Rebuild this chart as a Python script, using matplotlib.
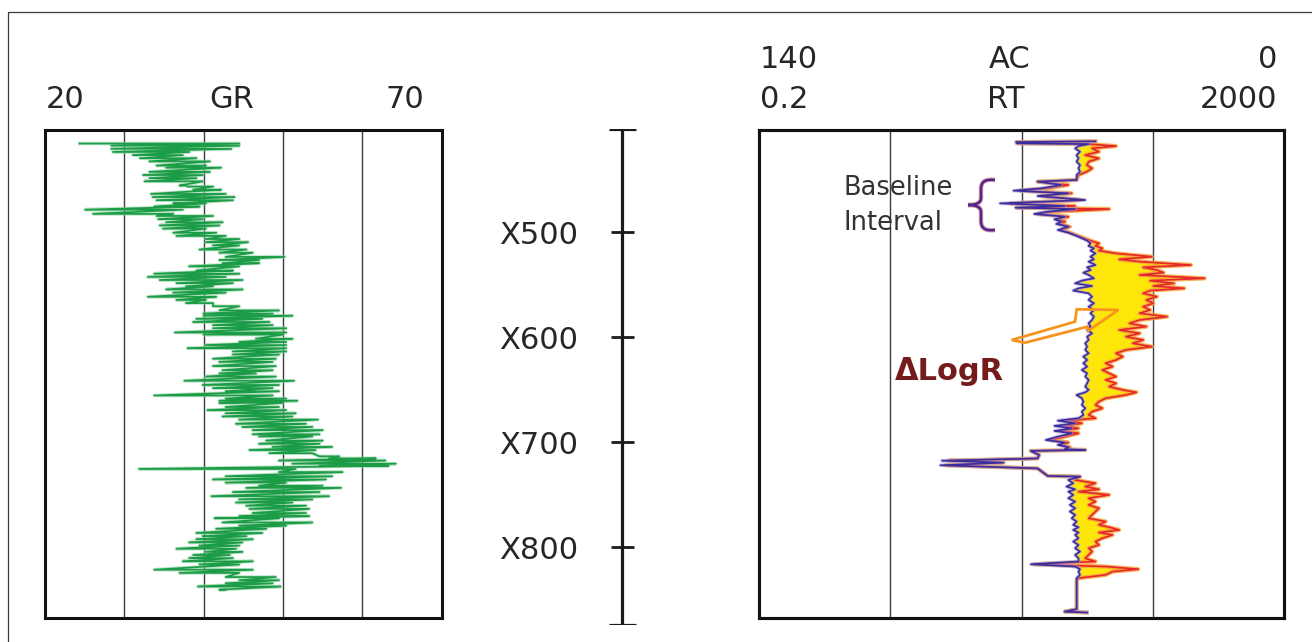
import numpy as np
import matplotlib
matplotlib.use("Agg")
import matplotlib.pyplot as plt
from matplotlib.path import Path
from matplotlib.patches import PathPatch, Polygon, Rectangle
from matplotlib.transforms import offset_copy

# ---- gamma ray track: per depth row, the low and high excursion of the log
gr_depth = [416, 418, 421, 424, 427, 430, 433, 437, 439, 443,
            446, 449, 452, 456, 457, 460, 464, 467, 470, 473,
            476, 479, 483, 485, 488, 491, 494, 497, 501, 504,
            507, 510, 513, 517, 520, 524, 527, 530, 533, 537,
            540, 543, 546, 549, 552, 555, 558, 562, 565, 568,
            571, 575, 578, 580, 583, 586, 589, 592, 596, 598,
            602, 605, 608, 611, 614, 617, 621, 624, 628, 632,
            635, 638, 642, 646, 649, 652, 656, 659, 661, 663,
            667, 670, 673, 676, 679, 683, 686, 689, 693, 695,
            699, 702, 705, 708, 711, 714, 716, 718, 721, 723,
            726, 729, 733, 736, 739, 742, 744, 748, 752, 755,
            758, 761, 764, 768, 771, 773, 777, 780, 783, 787,
            790, 793, 796, 799, 802, 805, 808, 811, 814, 817,
            822, 825, 829, 832, 835, 838, 841]
gr_low = [24.4, 28.4, 28.4, 28.6, 31.1, 32.0, 33.2, 34.1, 35.3, 33.2,
          32.4, 33.2, 32.6, 37.0, 38.0, 38.7, 33.4, 33.6, 34.1, 36.2,
          33.8, 25.1, 26.1, 34.1, 34.3, 35.3, 34.5, 34.9, 36.2, 36.6,
          40.3, 40.3, 41.2, 39.5, 42.0, 42.8, 42.0, 42.4, 38.2, 39.1,
          33.8, 33.0, 34.5, 36.6, 37.8, 35.3, 36.2, 33.0, 36.6, 37.8,
          41.2, 42.0, 40.0, 40.0, 39.1, 38.7, 41.2, 41.2, 36.4, 40.0,
          46.6, 44.5, 40.3, 38.0, 43.7, 43.7, 41.2, 42.0, 41.2, 42.4,
          42.0, 40.3, 37.6, 39.9, 41.2, 42.8, 33.8, 42.8, 42.0, 42.0,
          42.8, 40.5, 42.8, 42.4, 44.5, 44.1, 44.9, 46.2, 46.2, 47.0,
          47.9, 47.0, 48.7, 45.8, 48.3, 54.6, 55.8, 49.5, 51.2, 54.6,
          31.9, 49.5, 42.8, 41.2, 42.8, 47.0, 45.4, 43.7, 41.0, 44.5,
          44.1, 45.4, 45.8, 46.2, 44.5, 41.4, 42.4, 44.5, 41.6, 39.1,
          39.9, 39.1, 38.2, 39.5, 36.6, 40.3, 38.7, 38.2, 37.4, 39.5,
          33.8, 37.0, 42.8, 44.5, 42.8, 39.3, 42.0]
gr_high = [44.5, 44.5, 43.5, 38.2, 37.4, 39.1, 40.8, 40.3, 42.2, 40.8,
           39.9, 39.1, 39.9, 37.8, 41.2, 42.2, 42.8, 43.9, 43.7, 40.3,
           39.5, 37.4, 36.2, 41.2, 39.9, 42.4, 42.0, 40.3, 41.6, 42.8,
           44.5, 45.6, 44.5, 45.4, 46.2, 50.2, 47.0, 47.0, 44.5, 43.7,
           44.5, 42.8, 44.9, 43.7, 41.2, 44.9, 42.8, 41.6, 40.3, 41.2,
           44.5, 49.5, 48.7, 51.2, 47.4, 48.3, 48.7, 50.4, 50.4, 50.0,
           51.2, 50.4, 50.4, 50.4, 50.4, 49.5, 49.1, 48.7, 49.1, 48.7,
           46.6, 49.1, 51.4, 49.5, 48.7, 49.5, 48.7, 50.4, 51.8, 50.0,
           49.5, 50.4, 51.6, 51.2, 54.4, 52.9, 53.7, 55.0, 54.6, 53.7,
           55.0, 54.6, 56.2, 54.1, 53.7, 57.1, 61.7, 62.9, 64.2, 63.3,
           51.6, 57.5, 56.2, 55.4, 50.4, 55.0, 57.3, 54.6, 55.8, 53.7,
           51.2, 52.9, 53.3, 52.9, 53.3, 49.5, 53.7, 50.4, 47.9, 47.4,
           45.4, 46.2, 44.9, 44.5, 44.1, 44.9, 43.3, 43.7, 46.2, 44.5,
           46.2, 44.5, 49.1, 49.5, 48.7, 49.7, 42.8]

# ---- sonic (AC, us/ft) and resistivity (RT, ohm.m) track
log_depth = [413.9, 414.6, 415.8, 416.5, 418.4, 420.6, 423.8, 427.0, 430.1, 433.3,
             436.5, 439.6, 442.8, 446.0, 450.7, 452.3, 455.5, 458.7, 460.9, 463.4,
             466.0, 469.8, 473.0, 475.5, 477.1, 478.4, 480.9, 483.1, 485.7, 488.2,
             490.4, 492.6, 495.2, 498.4, 500.9, 504.7, 508.5, 511.1, 513.6, 515.8,
             518.0, 520.6, 523.8, 526.3, 528.5, 531.7, 533.9, 536.5, 539.0, 541.2,
             544.4, 546.6, 549.2, 551.7, 553.9, 556.1, 558.7, 561.9, 565.0, 568.2,
             571.4, 574.6, 577.7, 580.9, 584.1, 587.3, 590.4, 593.6, 596.8, 600.0,
             603.1, 606.3, 609.5, 612.6, 615.8, 619.0, 622.2, 625.3, 628.5, 631.7,
             634.9, 638.0, 641.2, 644.4, 647.6, 650.7, 653.0, 655.5, 658.7, 661.9,
             665.0, 668.2, 671.4, 674.6, 677.7, 680.0, 682.5, 685.0, 687.3, 689.8,
             692.0, 695.2, 698.4, 700.9, 703.1, 705.3, 707.3, 707.9, 708.8, 712.7,
             716.0, 718.1, 720.0, 722.5, 725.5, 732.7, 733.3, 736.5, 739.6, 742.8,
             745.4, 747.6, 750.7, 753.9, 757.1, 760.3, 763.4, 766.6, 769.8, 773.0,
             776.1, 779.3, 781.5, 784.1, 786.6, 788.8, 792.0, 795.2, 798.4, 801.5,
             804.7, 807.9, 811.1, 814.2, 816.8, 819.0, 821.5, 823.8, 826.9, 830.1,
             831.7, 859.6, 861.9, 862.8]
ac = [50.3, 71.4, 71.2, 52.1, 54.8, 55.7, 54.4, 55.3, 54.8, 55.3,
      54.4, 54.8, 54.4, 55.3, 55.3, 65.7, 59.4, 64.8, 72.1, 57.5,
      65.7, 53.0, 75.7, 58.5, 71.6, 55.7, 63.0, 66.6, 58.5, 61.2,
      59.4, 60.7, 57.5, 60.3, 57.5, 54.8, 52.5, 51.6, 52.1, 50.7,
      51.6, 50.3, 51.6, 50.7, 52.1, 50.3, 52.5, 51.6, 53.5, 52.1,
      50.7, 53.9, 55.7, 51.2, 54.8, 56.2, 52.1, 51.2, 52.1, 50.7,
      52.1, 50.7, 51.6, 50.7, 51.2, 52.1, 51.6, 52.5, 51.2, 52.5,
      52.1, 53.0, 52.5, 53.0, 52.1, 53.5, 52.5, 53.5, 52.5, 53.9,
      52.5, 53.0, 52.1, 52.5, 53.0, 52.1, 53.0, 55.3, 53.9, 53.5,
      53.9, 53.0, 53.9, 53.5, 54.8, 60.3, 55.7, 61.2, 56.6, 61.2,
      56.6, 60.3, 63.5, 58.5, 60.3, 57.5, 58.5, 53.0, 67.5, 65.3,
      65.7, 91.2, 74.8, 91.6, 65.7, 63.0, 54.4, 57.5, 56.2, 58.0,
      55.7, 57.5, 56.2, 57.5, 55.7, 57.1, 55.7, 57.1, 55.7, 56.6,
      55.3, 56.2, 54.8, 56.2, 54.8, 55.7, 54.8, 56.2, 54.8, 55.7,
      54.4, 55.7, 54.8, 54.8, 67.5, 55.7, 54.4, 54.8, 54.4, 55.3,
      55.3, 55.3, 58.5, 52.5]
rt = [73.2, 18.3, 18.5, 65.0, 104.8, 69.0, 77.8, 61.2, 77.8, 65.0,
      63.0, 69.0, 63.0, 54.3, 52.7, 26.5, 45.4, 31.7, 19.6, 48.2,
      28.1, 57.7, 16.4, 51.1, 18.5, 93.0, 35.7, 26.5, 45.4, 37.9,
      42.8, 39.1, 46.7, 40.3, 46.7, 55.9, 66.9, 77.8, 73.2, 82.6,
      77.8, 104.8, 197, 111, 159, 391, 169, 215, 242, 159,
      497, 191, 290, 202, 347, 191, 169, 215, 179, 202,
      169, 191, 159, 257, 159, 133, 179, 111, 159, 125,
      169, 141, 197, 125, 105, 118, 105, 87.6, 98.8, 82.6,
      93.0, 105, 87.6, 105, 93.0, 118, 150, 125, 87.6, 77.8,
      73.2, 82.6, 69.0, 65.0, 73.2, 45.4, 57.7, 42.8, 54.3, 40.3,
      54.3, 42.8, 33.7, 45.4, 40.3, 46.7, 44.1, 61.2, 23.5, 27.3,
      26.5, 5.6, 14.6, 5.3, 26.5, 31.7, 55.9, 51.1, 73.2, 61.2,
      77.8, 54.3, 93.0, 65.0, 73.2, 65.0, 77.8, 73.2, 69.0, 65.0,
      87.6, 77.8, 93.0, 111, 77.8, 98.8, 82.6, 73.2, 77.8, 65.0,
      69.0, 65.0, 61.2, 73.2, 25.0, 87.6, 155, 98.8, 87.6, 54.3,
      52.7, 52.7, 42.8, 63.0]

depth_ticks = [500, 600, 700, 800]
depth_labels = ["X500", "X600", "X700", "X800"]
gr_range = (20, 70)
gr_grid = [30, 40, 50, 60]
ac_range = (140, 0)
rt_range = (0.2, 2000)
rt_grid = [2, 20, 200]

W, H = 1312, 642
TXT = "#262626"
plt.rcParams["font.family"] = ["DejaVu Sans"]

fig = plt.figure(figsize=(W / 100, H / 100), dpi=100)


def rect(x0, y0, x1, y1):
    # pixel box (y down) -> figure fraction
    return [x0 / W, 1 - y1 / H, (x1 - x0) / W, (y1 - y0) / H]


def clean(ax):
    ax.tick_params(which="both", bottom=False, top=False, left=False, right=False,
                   labelbottom=False, labeltop=False, labelleft=False, labelright=False)
    for s in ax.spines.values():
        s.set_linewidth(2.2)
        s.set_color("#111111")


track_top, track_bot = 403.1, 868.0

# GR track
ax_gr = fig.add_axes(rect(44.7, 130, 441.7, 618))
ax_gr.set_xlim(*gr_range)
ax_gr.set_ylim(track_bot, track_top)
for g in gr_grid:
    ax_gr.axvline(g, color="#3c3c3c", lw=1.0, zorder=1)
gd = np.repeat(gr_depth, 2)
gv = np.column_stack([gr_low, gr_high]).ravel()
ax_gr.plot(gv, gd, color="#8fd3a3", lw=2.6, alpha=0.6, zorder=2)
ax_gr.plot(gv, gd, color="#1c9c47", lw=1.25, zorder=3)
clean(ax_gr)

# AC / RT track
ax_rt = fig.add_axes(rect(759, 130, 1284, 618))
ax_rt.set_xscale("log")
ax_rt.set_xlim(*rt_range)
ax_rt.set_ylim(track_bot, track_top)
ax_ac = ax_rt.twiny()
ax_ac.set_xlim(*ac_range)
for g in rt_grid:
    ax_rt.axvline(g, color="#3c3c3c", lw=1.0, zorder=1)

dep = np.array(log_depth)
ac_arr = np.array(ac)
rt_arr = np.array(rt)
# express the sonic curve in resistivity units so the separation can be shaded
ac_disp = ax_ac.transData.transform(np.column_stack([ac_arr, dep]))
ac_on_rt = ax_rt.transData.inverted().transform(ac_disp)[:, 0]
ax_rt.fill_betweenx(dep, ac_on_rt, rt_arr, where=rt_arr > ac_on_rt,
                    interpolate=True, color="#ffe60a", lw=0, zorder=2)
ax_rt.plot(rt_arr, dep, color="#f7a23a", lw=3.0, alpha=0.85, zorder=3)
ax_rt.plot(rt_arr, dep, color="#e5262a", lw=1.2, zorder=4)
ax_ac.plot(ac_arr, dep, color="#a89be0", lw=2.6, alpha=0.6, zorder=3)
ax_ac.plot(ac_arr, dep, color="#3b2e9c", lw=1.2, zorder=4)
clean(ax_rt)
clean(ax_ac)

# depth scale
ax_d = fig.add_axes(rect(600, 129, 644, 625))
ax_d.set_xlim(-22, 22)
ax_d.set_ylim(874.6, 402.2)
ax_d.axis("off")
ax_d.plot([0, 0], [874.6, 402.2], color="#1a1a1a", lw=2.3, solid_capstyle="butt")
ax_d.hlines([402.2, 874.6], -13.5, 13.5, color="#1a1a1a", lw=2.3)
ax_d.hlines(depth_ticks, -11.5, 11.5, color="#1a1a1a", lw=2.0)
lab_tr = offset_copy(ax_d.transData, fig=fig, x=0, y=-12.5, units="dots")
for d, lab in zip(depth_ticks, depth_labels):
    ax_d.text(-44, d, lab, ha="right", va="baseline", fontsize=22,
              color=TXT, transform=lab_tr, clip_on=False)

# overlay in pixel coordinates for headers and annotations
ov = fig.add_axes([0, 0, 1, 1])
ov.set_xlim(0, W)
ov.set_ylim(H, 0)
ov.axis("off")
ov.add_patch(Rectangle((8, 12), W, H, fill=False, lw=0.9, ec="#3a3a3a"))

hdr = dict(fontsize=22, color=TXT, va="baseline")
ov.text(46, 108, "20", ha="left", **hdr)
ov.text(232, 108, "GR", ha="center", **hdr)
ov.text(424, 108, "70", ha="right", **hdr)
ov.text(760, 68, "140", ha="left", **hdr)
ov.text(1010, 68, "AC", ha="center", **hdr)
ov.text(1277, 68, "0", ha="right", **hdr)
ov.text(760, 108, "0.2", ha="left", **hdr)
ov.text(1006, 108, "RT", ha="center", **hdr)
ov.text(1277, 108, "2000", ha="right", **hdr)

ov.text(843, 195, "Baseline", ha="left", va="baseline", fontsize=18.5, color="#333333")
ov.text(843, 230, "Interval", ha="left", va="baseline", fontsize=18.5, color="#333333")

brace = Path([(995, 180), (986, 179), (981, 181), (981, 189),
              (981, 198),
              (981, 203), (976, 205), (968, 205),
              (976, 205), (981, 207), (981, 212),
              (981, 221),
              (981, 229), (986, 231), (995, 230)],
             [Path.MOVETO, Path.CURVE4, Path.CURVE4, Path.CURVE4,
              Path.LINETO,
              Path.CURVE4, Path.CURVE4, Path.CURVE4,
              Path.CURVE4, Path.CURVE4, Path.CURVE4,
              Path.LINETO,
              Path.CURVE4, Path.CURVE4, Path.CURVE4])
ov.add_patch(PathPatch(brace, fill=False, ec="#c0304a", lw=3.2, alpha=0.5))
ov.add_patch(PathPatch(brace, fill=False, ec="#4b2a8e", lw=1.8))

arrow = [(1011.7, 340), (1075, 321.7), (1076.7, 309.3), (1118.3, 310),
         (1088.3, 330.7), (1087.3, 326.7), (1025, 342.7)]
ov.add_patch(Polygon(arrow, closed=True, fill=False, ec="#f7941d", lw=2.0,
                     joinstyle="miter"))

ov.text(949, 380, "\u0394LogR", ha="center", va="baseline", fontsize=22,
        fontweight="bold", color="#741b1b")

fig.savefig("out.png", dpi=100, facecolor="white")
